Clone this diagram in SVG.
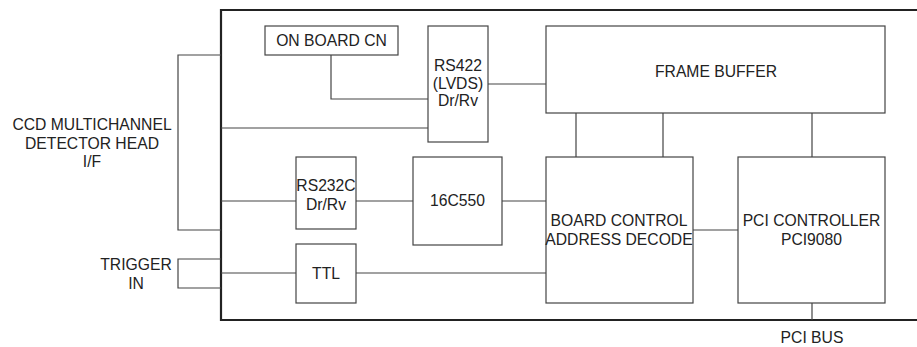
<svg xmlns="http://www.w3.org/2000/svg" width="917" height="347" viewBox="0 0 917 347">
<style>
.box{fill:#fff;stroke:#444;stroke-width:1.2}
.ln{fill:none;stroke:#444;stroke-width:1.2}
.brd{fill:none;stroke:#222;stroke-width:2.2}
text{font-family:"Liberation Sans",Arial,sans-serif;font-size:15.7px;fill:#222;text-anchor:middle}
</style>
<rect width="917" height="347" fill="#fff"/>
<g id="board"><path class="brd" d="M917,10 H221 V320 H917"/></g>
<g id="connectors">
<path class="ln" d="M221,55 H178 V230 H221"/>
<path class="ln" d="M221,259 H178 V288 H221"/>
<path class="ln" d="M331,55 V99 H428"/>
<path class="ln" d="M221,128 H428"/>
<path class="ln" d="M488,84 H546"/>
<path class="ln" d="M576,113 V157 M663,113 V157 M812,113 V157"/>
<path class="ln" d="M221,201 H296 M356,201 H413 M502,201 H546"/>
<path class="ln" d="M221,273 H296 M356,273 H546"/>
<path class="ln" d="M693,230 H738"/>
<path class="ln" d="M812,303 V320"/>
</g>
<g id="ccd-label"><text x="92" y="130">CCD MULTICHANNEL</text><text x="92" y="149">DETECTOR HEAD</text><text x="92" y="167">I/F</text></g>
<g id="trigger-label"><text x="136" y="270">TRIGGER</text><text x="136" y="289">IN</text></g>
<g id="onboard"><rect class="box" x="265" y="26" width="133" height="29"/><text x="331.5" y="46">ON BOARD CN</text></g>
<g id="rs422"><rect class="box" x="428" y="26" width="60" height="116"/><text x="458" y="71">RS422</text><text x="458" y="88.5">(LVDS)</text><text x="458" y="106">Dr/Rv</text></g>
<g id="framebuffer"><rect class="box" x="546" y="26" width="339" height="87"/><text x="716" y="77">FRAME BUFFER</text></g>
<g id="rs232c"><rect class="box" x="296" y="157" width="60" height="72"/><text x="326" y="191">RS232C</text><text x="326" y="210">Dr/Rv</text></g>
<g id="uart"><rect class="box" x="413" y="157" width="89" height="88"/><text x="457.5" y="206">16C550</text></g>
<g id="ttl"><rect class="box" x="296" y="244" width="60" height="59"/><text x="326" y="279">TTL</text></g>
<g id="boardcontrol"><rect class="box" x="546" y="157" width="147" height="146"/><text x="619" y="226">BOARD CONTROL</text><text x="619" y="245">ADDRESS DECODE</text></g>
<g id="pcicontroller"><rect class="box" x="738" y="157" width="147" height="146"/><text x="811.5" y="226">PCI CONTROLLER</text><text x="811.5" y="245">PCI9080</text></g>
<g id="pcibus-label"><text x="812" y="343">PCI BUS</text></g>
</svg>
